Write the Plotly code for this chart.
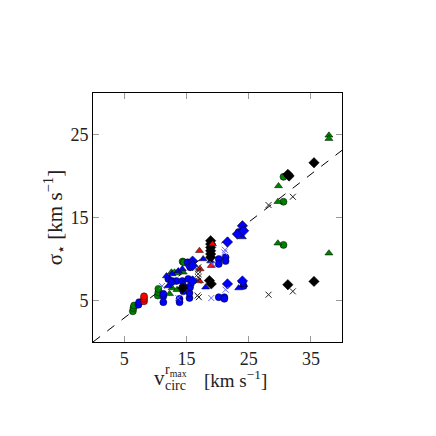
import numpy as np
import plotly.graph_objects as go

# ---- data ----
green_circle_x = [6.4, 6.5, 6.6, 10.4, 10.5, 10.5, 14.4, 14.6, 30.6, 30.6, 30.6]
green_circle_y = [3.7, 4.1, 4.4, 5.6, 6.0, 6.4, 9.7, 9.6, 11.7, 19.9, 16.9]

green_tri_x = [12.3, 12.6, 13.1, 13.5, 14.5, 12.7, 13.5, 29.7, 37.9, 37.9, 37.9, 29.8, 29.7]
green_tri_y = [5.8, 8.4, 8.4, 8.3, 8.4, 6.5, 6.3, 11.9, 10.7, 24.9, 24.5, 18.8, 16.9]

red_circle_x = [8.2, 8.2, 8.2]
red_circle_y = [4.9, 5.2, 5.5]

red_tri_x = [17.1, 19.2, 17.1, 19.0, 17.2]
red_tri_y = [11.0, 11.8, 7.35, 9.2, 8.8]

blue_circle_x = [7.3, 7.4, 11.3, 11.3, 11.3, 12.7, 13.4, 13.9, 13.9, 15.5, 15.5, 14.5, 15.2,
                 15.6, 14.35, 14.5, 15.6, 20.2, 20.2, 21.3, 21.3, 20.2, 21.1, 21.1, 23.4,
                 24.2, 12.1, 12.6, 15.3]
blue_circle_y = [4.5, 4.8, 5.5, 4.8, 5.8, 7.35, 7.35, 5.2, 4.8, 5.3, 5.9, 6.1, 9.6,
                 9.0, 7.35, 6.75, 6.6, 10.0, 9.4, 10.2, 9.75, 5.4, 5.4, 5.2, 13.25,
                 6.75, 7.6, 7.2, 7.6]

blue_tri_x = [11.8, 12.1, 13.7, 14.35, 12.7, 14.5, 15.6, 17.7, 18.9, 18.1, 24.0, 23.4, 24.0, 24.2]
blue_tri_y = [7.95, 6.75, 8.55, 8.8, 8.2, 7.0, 7.0, 10.0, 9.75, 6.6, 12.65, 6.5, 7.35, 6.9]

blue_dia_x = [16.0, 15.6, 16.0, 21.6, 23.2, 24.0, 24.2, 21.6, 24.0, 16.0]
blue_dia_y = [9.75, 9.2, 9.2, 12.05, 13.0, 14.0, 13.4, 7.0, 7.35, 7.35]

black_dia_x = [18.9, 18.9, 18.9, 18.9, 18.9, 18.9, 18.7, 19.0, 31.3, 35.5, 35.5, 31.3, 31.5, 14.4]
black_dia_y = [12.2, 11.8, 11.4, 11.0, 10.6, 10.2, 7.4, 7.0, 6.9, 7.3, 21.6, 20.2, 20.0, 6.5]

black_x_x = [16.9, 16.9, 16.9, 16.9, 16.9, 16.8, 17.0, 28.2, 32.1, 28.2, 32.1]
black_x_y = [9.0, 8.6, 8.2, 7.8, 7.4, 5.6, 5.4, 5.7, 6.1, 16.5, 17.5]

blue_x_x = [11.1, 13.7, 19.0, 21.2, 21.1, 21.3, 19.2]
blue_x_y = [6.75, 5.3, 5.3, 11.1, 10.8, 6.3, 9.4]

line_x = [0, 40]

x_ticks = [5, 15, 25, 35]
y_ticks = [5, 15, 25]

FONT = "Liberation Serif"
TXT = "#222222"

fig = go.Figure()

fig.add_trace(go.Scatter(x=line_x, y=[v / np.sqrt(3) for v in line_x], mode="lines",
                         line=dict(color="black", width=1, dash="dash"), hoverinfo="skip"))

edge = dict(color="black", width=0.5)


def add(xs, ys, symbol, color, size):
    fig.add_trace(go.Scatter(x=xs, y=ys, mode="markers",
                             marker=dict(symbol=symbol, color=color, size=size, line=edge)))


add(green_circle_x, green_circle_y, "circle", "#008000", 7)
add(green_tri_x, green_tri_y, "triangle-up", "#008000", 7)
add(blue_circle_x, blue_circle_y, "circle", "#0000ff", 7)
add(blue_tri_x, blue_tri_y, "triangle-up", "#0000ff", 7)
add(blue_dia_x, blue_dia_y, "diamond", "#0000ff", 8)
add(black_dia_x, black_dia_y, "diamond", "#000000", 8)
add(red_circle_x, red_circle_y, "circle", "#ff0000", 7)
add(red_tri_x, red_tri_y, "triangle-up", "#ff0000", 7)

fig.add_trace(go.Scatter(x=black_x_x, y=black_x_y, mode="markers",
                         marker=dict(symbol="x-thin", size=6, color="#222222",
                                     line=dict(color="#222222", width=1))))
fig.add_trace(go.Scatter(x=blue_x_x, y=blue_x_y, mode="markers",
                         marker=dict(symbol="x-thin", size=6, color="#6666ff",
                                     line=dict(color="#6666ff", width=1))))

axis_common = dict(showgrid=False, zeroline=False, showline=True, linecolor="black",
                   linewidth=1, mirror="ticks", ticks="inside", ticklen=6,
                   tickcolor="#999999", tickwidth=1,
                   tickfont=dict(family=FONT, size=18, color=TXT))

fig.update_xaxes(range=[0, 40], tickvals=x_ticks, **axis_common)
fig.update_yaxes(range=[0, 30], tickvals=y_ticks, **axis_common,
                 title=dict(text="σ<sub>⋆</sub> [km s<sup>−1</sup>]",
                            font=dict(family=FONT, size=21, color=TXT), standoff=2))

# x-axis title built from pieces so the super/subscripts stack like the original
PW = 249.0


def px_x(p):
    return (p - 93) / PW


def px_y(p):
    return (342 - p) / PW


ann = [
    ("v", 152, 378, 21),
    ("r<sub>max</sub>", 163, 370, 14),
    ("circ", 163, 385, 14),
    ("[km s<sup>−1</sup>]", 202, 379, 19),
]
for text, x, y, size in ann:
    fig.add_annotation(text=text, xref="paper", yref="paper", x=px_x(x), y=px_y(y),
                       xanchor="left", yanchor="middle", showarrow=False,
                       font=dict(family=FONT, size=size, color=TXT))

fig.update_layout(width=436, height=436, showlegend=False,
                  margin=dict(l=85, r=102, t=85, b=102, autoexpand=False),
                  paper_bgcolor="white", plot_bgcolor="white")

fig.write_html("out.html")
